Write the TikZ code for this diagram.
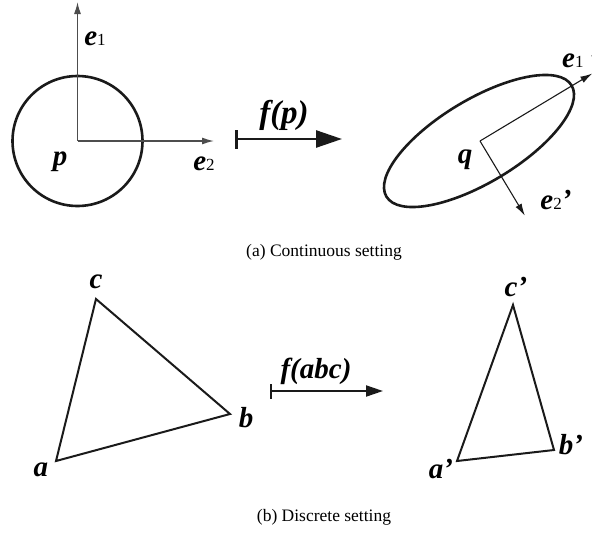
\documentclass[tikz,border=0pt]{standalone}
\usepackage{fontspec}
\setmainfont{Liberation Serif}
\usepackage{tikz}
\usetikzlibrary{arrows.meta,shapes.geometric,calc}
\definecolor{cInk}{HTML}{1A1A1A}
\definecolor{cAxis}{HTML}{4D4D4D}
\newcommand{\idx}[1]{{\fontsize{17}{17}\selectfont\mdseries\upshape #1}}
\tikzset{
  lbl/.style    = {font=\fontsize{29}{29}\selectfont\bfseries\itshape, inner sep=0pt},
  captext/.style = {font=\fontsize{17.5}{18}\selectfont, inner sep=0pt},
  outline/.style = {draw=cInk, line width=2.6pt, inner sep=0pt},
  axis/.style   = {draw=cAxis, line width=1.4pt, -{Latex[length=12pt,width=7pt]}},
  axisq/.style  = {draw=cInk, line width=1.1pt, -{Latex[length=12pt,width=7pt]}},
  maps/.style   = {draw=cInk, line width=2.6pt,
                   {Bar[width=19pt]}-{Triangle[length=26pt,width=17pt]}},
  mapsd/.style  = {draw=cInk, line width=2pt,
                   {Bar[width=15pt]}-{Triangle[length=17pt,width=11pt]}},
  tri/.style    = {draw=cInk, line width=2pt, line join=miter},
}

\begin{document}
\begin{tikzpicture}[x=1pt, y=1pt]
  \useasboundingbox (0,0) rectangle (592,-533);
  % continuous: disk and its frame
  \node[outline, circle, minimum size=130] (disk) at (77.5,-141) {};
  \coordinate (e1end) at (77.5,-2);
  \coordinate (e2end) at (214,-141);
  \draw[axis] (disk.center) -- (e1end);
  \draw[axis] (disk.center) -- (e2end);
  \node[lbl] (lp)  at (60,-162) {p};
  \node[lbl] (le1) at (95,-39)  {e\idx{1}};
  \node[lbl] (le2) at (204,-164) {e\idx{2}};
  % mapping
  \coordinate (fpL) at (235,-139);
  \coordinate (fpR) at (342,-139);
  \draw[maps] (fpL) -- (fpR);
  \node[lbl, font=\fontsize{33}{33}\selectfont\bfseries\itshape] (lfp) at (284,-115) {f(p)};
  % continuous: ellipse and its frame
  \node[outline, ellipse, minimum width=216, minimum height=83, rotate=31] (blob) at (479,-141) {};
  \coordinate (q0) at (480,-141);
  \coordinate (e1qend) at ($(q0)+(31:131)$);
  \coordinate (e2qend) at ($(q0)+(-59:87)$);
  \draw[axisq] (q0) -- (e1qend);
  \draw[axisq] (q0) -- (e2qend);
  \node[lbl] (lq)   at (465,-160) {q};
  \node[lbl, anchor=west] (le1q) at (562,-58) {e\idx{1}\kern5pt'};
  \node[lbl] (le2q) at (556,-200) {e\idx{2}'};
  \node[captext] (capa) at (324,-252) {(a) Continuous setting};
  % discrete: triangles
  \coordinate (a) at (56,-461);
  \coordinate (b) at (230,-414);
  \coordinate (c) at (96,-299);
  \draw[tri] (a) -- (b) -- (c) -- cycle;
  \node[lbl] (la) at (41,-470)  {a};
  \node[lbl] (lb) at (246,-418) {b};
  \node[lbl] (lc) at (96,-282)  {c};
  \coordinate (fabcL) at (270,-391);
  \coordinate (fabcR) at (383,-391);
  \draw[mapsd] (fabcL) -- (fabcR);
  \node[lbl] (lfabc) at (316,-371) {f(abc)};
  \coordinate (ap) at (457,-461);
  \coordinate (bp) at (554,-450);
  \coordinate (cp) at (513,-305);
  \draw[tri] (ap) -- (bp) -- (cp) -- cycle;
  \node[lbl] (lap) at (441,-469) {a'};
  \node[lbl] (lbp) at (571,-445) {b'};
  \node[lbl] (lcp) at (516,-287) {c'};
  \node[captext] (capb) at (324,-517) {(b) Discrete setting};
\end{tikzpicture}
\end{document}
